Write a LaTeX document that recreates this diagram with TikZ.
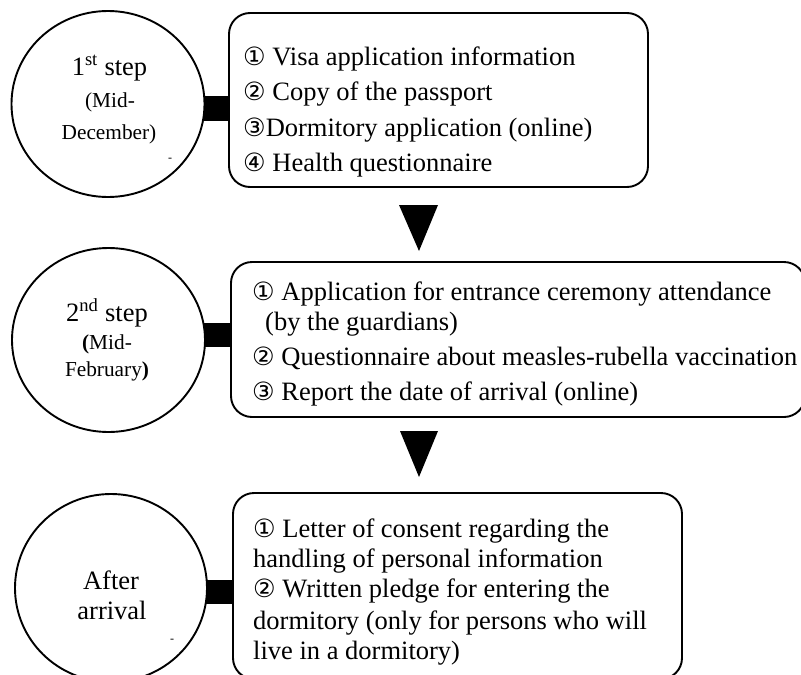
\documentclass[tikz,border=0pt]{standalone}
\usepackage{fontspec}
\setmainfont{Liberation Serif}
\newfontfamily\symf[Scale=0.95]{DejaVu Sans}
\usetikzlibrary{shapes.geometric,backgrounds}
\begin{document}
\begin{tikzpicture}[x=1pt,y=-1pt,
  stepcircle/.style={ellipse,draw,line width=1.9,fill=white,inner sep=0},
  listbox/.style={rectangle,rounded corners=21,draw,line width=1.9,fill=white,inner sep=0},
  bar/.style={line width=25,black},
  arrowtri/.style={fill=black},
  ltxt/.style={anchor=base west,inner sep=0,font=\fontsize{26.5}{30}\selectfont},
  ctxt/.style={anchor=base,inner sep=0,font=\fontsize{26.5}{30}\selectfont},
  stxt/.style={anchor=base,inner sep=0,font=\fontsize{21.3}{24}\selectfont},
  tickmark/.style={inner sep=0,font=\fontsize{12}{14}\selectfont}
]
\useasboundingbox (0,0) rectangle (801,675);
% circles
\node[stepcircle,minimum width=193,minimum height=186] (c1) at (108,104) {};
\node[stepcircle,minimum width=193,minimum height=184] (c2) at (108.5,340) {};
\node[stepcircle,minimum width=192,minimum height=188] (c3) at (111,588) {};
% boxes
\node[listbox,minimum width=419,minimum height=174] (b1) at (438.5,100) {};
\node[listbox,minimum width=574,minimum height=155] (b2) at (518,339.5) {};
\node[listbox,minimum width=449,minimum height=186] (b3) at (457.5,586) {};
% bars
\coordinate (k1) at (108,108.5);
\coordinate (k2) at (108,335);
\coordinate (k3) at (111,592);
\begin{scope}[on background layer]
\draw[bar] (k1) -- (k1 -| b1.center);
\draw[bar,line width=24] (k2) -- (k2 -| b2.center);
\draw[bar,line width=24] (k3) -- (k3 -| b3.center);
\end{scope}
% triangles
\fill[arrowtri] (399,205) -- (438,205) -- (419,251) -- cycle;
\fill[arrowtri] (400,431) -- (438,431) -- (419,477) -- cycle;
% circle texts
\node[ctxt] (t11) at (109.5,75) {1\textsuperscript{st} step};
\node[stxt] (t12) at (110,107) {(Mid-};
\node[stxt] (t13) at (109,139) {December)};
\node[tickmark] (d1) at (170,160) {-};
\node[ctxt] (t21) at (107,321) {2\textsuperscript{nd} step};
\node[stxt] (t22) at (107,349) {\textbf{(}Mid-};
\node[stxt] (t23) at (107,376) {February\textbf{)}};
\node[ctxt] (t31) at (111,589) {After};
\node[ctxt] (t32) at (112,619) {arrival};
\node[tickmark] (d3) at (172,641) {-};
% box 1 texts
\node[ltxt] (l11) at (243,65) {{\symf ①} Visa application information};
\node[ltxt] (l12) at (243,100) {{\symf ②} Copy of the passport};
\node[ltxt] (l13) at (243,136) {{\symf ③}Dormitory application (online)};
\node[ltxt] (l14) at (243,171) {{\symf ④} Health questionnaire};
% box 2 texts
\node[ltxt] (l21) at (252,300) {{\symf ①} Application for entrance ceremony attendance};
\node[ltxt] (l22) at (265,330) {(by the guardians)};
\node[ltxt] (l23) at (252,365) {{\symf ②} Questionnaire about measles-rubella vaccination};
\node[ltxt] (l24) at (252,400) {{\symf ③} Report the date of arrival (online)};
% box 3 texts
\node[ltxt] (l31) at (253,537) {{\symf ①} Letter of consent regarding the};
\node[ltxt] (l32) at (253,567) {handling of personal information};
\node[ltxt] (l33) at (253,597) {{\symf ②} Written pledge for entering the};
\node[ltxt] (l34) at (253,629) {dormitory (only for persons who will};
\node[ltxt] (l35) at (253,659) {live in a dormitory)};
\end{tikzpicture}
\end{document}
